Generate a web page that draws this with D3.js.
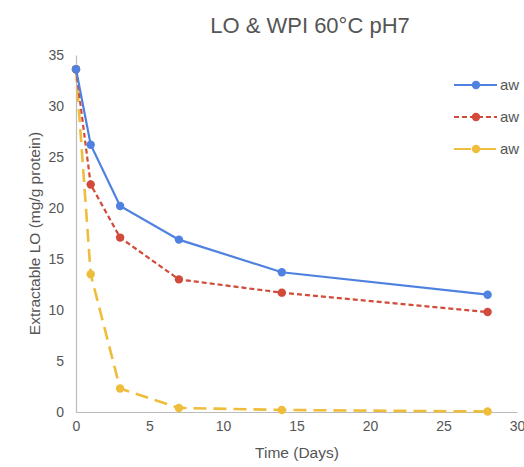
<!DOCTYPE html>
<html>
<head>
<meta charset="utf-8">
<script src="https://cdn.jsdelivr.net/npm/d3@7"></script>
<style>
  body { margin: 0; background: #fff; overflow: hidden; }
  text { font-family: Arial, "Liberation Sans", sans-serif; }
</style>
</head>
<body>
<script>
// data
const days = [0, 1, 3, 7, 14, 28];
const awBlue = [33.6, 26.2, 20.2, 16.9, 13.7, 11.5];
const awRed = [33.6, 22.3, 17.1, 13.0, 11.7, 9.8];
const awYellow = [33.6, 13.5, 2.3, 0.4, 0.2, 0.05];
const seriesNames = ["aw", "aw", "aw"];
const xTicks = [0, 5, 10, 15, 20, 25, 30];
const yTicks = [0, 5, 10, 15, 20, 25, 30, 35];

const W = 524, H = 467;
const m = {left: 76, right: 7, top: 55, bottom: 55};

const svg = d3.select("body").append("svg")
    .attr("width", W)
    .attr("height", H);

const x = d3.scaleLinear().domain([0, 30]).range([m.left, W - m.right]);
const y = d3.scaleLinear().domain([0, 35]).range([H - m.bottom, m.top]);

// title
svg.append("text")
    .attr("x", 310).attr("y", 33)
    .attr("text-anchor", "middle")
    .attr("font-size", 22)
    .attr("fill", "#555")
    .text("LO & WPI 60°C pH7");

// axes
const xAxis = svg.append("g")
    .attr("transform", `translate(0,${y(0)})`)
    .call(d3.axisBottom(x).tickValues(xTicks).tickSize(0).tickPadding(9));
const yAxis = svg.append("g")
    .attr("transform", `translate(${x(0)},0)`)
    .call(d3.axisLeft(y).tickValues(yTicks).tickSize(0).tickPadding(12));

[xAxis, yAxis].forEach(a => {
    a.select(".domain").attr("stroke", "#bbb").attr("stroke-width", 1.2);
    a.selectAll("text")
        .attr("font-size", 14)
        .attr("fill", "#555")
        .attr("font-family", "Arial, 'Liberation Sans', sans-serif");
});

// axis titles
svg.append("text")
    .attr("x", 297).attr("y", 458)
    .attr("text-anchor", "middle")
    .attr("font-size", 15.5)
    .attr("fill", "#555")
    .text("Time (Days)");

svg.append("text")
    .attr("transform", `translate(40,${(y(0) + y(35)) / 2}) rotate(-90)`)
    .attr("text-anchor", "middle")
    .attr("font-size", 15.5)
    .attr("fill", "#555")
    .text("Extractable LO (mg/g protein)");

const series = [
    {name: seriesNames[0], values: awBlue, color: "#4f81e0", dash: null, legDash: null, width: 2.2},
    {name: seriesNames[1], values: awRed, color: "#d24a3a", dash: "5,3", legDash: "5,3", width: 2.2},
    {name: seriesNames[2], values: awYellow, color: "#efbd3c", dash: "13,7", legDash: "17,8", width: 2.6}
];

const line = d3.line()
    .x((d, i) => x(days[i]))
    .y(d => y(d));

// draw back to front so blue ends on top
series.slice().reverse().forEach(s => {
    svg.append("path")
        .datum(s.values)
        .attr("d", line)
        .attr("fill", "none")
        .attr("stroke", s.color)
        .attr("stroke-width", s.width)
        .attr("stroke-dasharray", s.dash);

    svg.append("g").selectAll("circle")
        .data(s.values)
        .join("circle")
        .attr("cx", (d, i) => x(days[i]))
        .attr("cy", d => y(d))
        .attr("r", 4.2)
        .attr("fill", s.color);
});

// legend
const legend = svg.append("g");
series.forEach((s, i) => {
    const ly = 85 + i * 32;
    legend.append("line")
        .attr("x1", 454).attr("x2", 497)
        .attr("y1", ly).attr("y2", ly)
        .attr("stroke", s.color)
        .attr("stroke-width", 2.2)
        .attr("stroke-dasharray", s.legDash);
    legend.append("circle")
        .attr("cx", 476).attr("cy", ly).attr("r", 4.2)
        .attr("fill", s.color);
    legend.append("text")
        .attr("x", 500).attr("y", ly + 5)
        .attr("font-size", 15)
        .attr("fill", "#555")
        .text(s.name);
});
</script>
</body>
</html>
